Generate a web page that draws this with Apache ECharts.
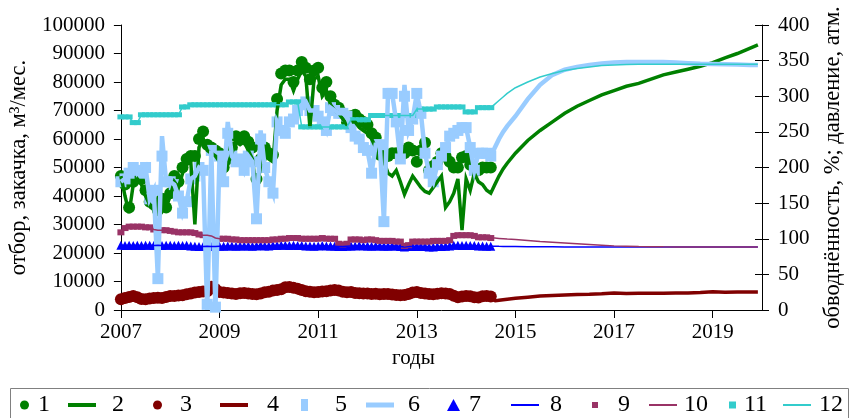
<!DOCTYPE html>
<html><head><meta charset="utf-8">
<script src="https://cdn.jsdelivr.net/npm/echarts/dist/echarts.min.js"></script>
<style>html,body{margin:0;padding:0;background:#fff}#c{width:853px;height:418px}</style>
</head><body><div id="c"></div><script>
// x = months since Jan 2007; history months are 0..90 (array index)
const xTicks = [2007, 2009, 2011, 2013, 2015, 2017, 2019];
const fcMonths = [91,92,93,94,96,99,102,105,108,111,114,117,120,123,126,129,132,135,138,141,144,147,150,153,155];

// 1: production observed (left axis)
const prodObs = [47000,44000,36000,45000,48000,46000,42000,38000,37000,35000,
39000,36000,41000,47000,45000,50000,53000,54000,54000,60000,
62600,58000,57000,56000,55000,50000,53000,57000,61000,60000,
61000,59000,57000,46000,53000,57000,55000,54500,74000,83000,
84000,84000,80000,84000,87000,85000,81000,84000,85000,78000,
80000,75000,72000,71000,69000,66000,68000,68500,67000,66000,
65000,62000,60500,54500,54000,54000,55000,55000,55000,55000,
57000,56000,52000,56000,58700,49000,50500,52000,55000,54000,
52000,50000,50000,53500,54000,51000,50000,49000,50000,50000,
50000];
// 2: production model (history + forecast)
const prodModelHist = [47000,40000,34000,44000,46000,44000,40000,37000,36000,35000,
38000,36000,40000,45000,43000,48000,51000,52000,30000,57000,
60000,56000,55000,54000,52000,48000,51000,55000,59000,58000,
59000,56000,53000,41000,51000,54000,53000,52000,70000,79000,
81000,81000,77000,81000,84000,82000,64000,81000,82000,75000,
77000,72000,70000,69000,67000,65000,66000,66000,64000,63000,
62000,60000,57000,53000,52000,48000,47000,49000,45000,40600,
44000,47000,45000,43000,41600,41000,43000,45000,47000,36000,
38000,41000,46000,28000,46000,42000,48000,45000,44000,42000,
41000];
const prodModelFc = [44000,47000,49500,51500,55000,59500,63000,66000,69000,71500,73500,75500,77000,78500,79500,81000,82500,83500,84500,85500,86800,88500,90000,91800,93000];

// 3: observed (left axis), 4: model
const s3Obs = [3800,4200,4600,4900,4500,3900,3800,4000,4200,4300,
4200,4600,4900,4900,5100,5200,5500,5800,6100,6300,
6500,6600,8200,7400,6300,6100,6000,5800,5600,5900,
6000,5800,5600,5500,5800,6200,6400,6800,7000,7300,
8000,8100,7800,7500,7000,6600,6400,6200,6300,6500,
6600,6800,7000,6800,6400,6200,6300,6000,5900,5800,
5800,5600,5700,5500,5600,5600,5400,5300,5200,5300,
5600,6100,6300,6000,5800,5600,5500,5700,5900,5800,
5600,5000,4500,4700,4900,4800,4500,4400,4800,4900,
4700];
const s4Fc = [3200,3400,3600,3800,4100,4500,4900,5100,5300,5400,5500,5700,6000,5800,5900,5900,5900,6000,6000,6100,6400,6200,6300,6300,6300];

// 5: injection observed (left axis), 6: model
const injObs = [45000,46000,48000,50000,49000,48000,50000,39000,42000,11000,
54000,45000,45000,44000,40000,34000,38000,46000,47000,50000,
49000,2000,56000,1000,54000,45000,62000,54000,52000,53000,
49000,54000,52000,32000,60000,50000,45000,41000,66000,63000,
62000,66000,67000,70000,72000,73000,70000,70000,68000,66000,
63000,71000,70000,69000,69000,68000,64000,61000,60000,57000,
56000,48000,58000,58000,31000,76000,76000,66000,53000,75000,
63000,67000,76000,69000,55000,48000,45000,51000,54000,57000,
61000,62000,63000,64000,64000,57000,49000,55000,55000,55000,
54000];
const injModelHist = [45000,46000,48000,50000,49000,48000,50000,39000,42000,11000,
61000,45000,45000,44000,40000,34000,38000,46000,47000,50000,
49000,0,56000,0,54000,45000,66000,54000,52000,53000,
49000,54000,52000,32000,63000,50000,45000,41000,66000,63000,
62000,66000,67000,70000,72000,73000,70000,70000,68000,66000,
63000,71000,70000,69000,69000,68000,64000,61000,60000,57000,
56000,48000,58000,58000,31000,76000,76000,66000,53000,79000,
63000,67000,76000,69000,55000,48000,45000,51000,54000,57000,
61000,62000,63000,64000,64000,57000,49000,55000,55000,55000,
54000];
const injModelFc = [57000,60000,62500,64500,68000,74000,79000,82500,84300,85300,86000,86500,86800,87000,87000,87000,87000,86800,86600,86400,86300,86200,86100,86000,86000];

// 7: observed (right axis), 8: model
const s7Obs = [91,90.5,91,90.5,91,90.5,91,91,90.5,91,
90.5,91,91,90.5,91,90.5,91,90,89.5,89,
89,89.5,89,89,89.5,89.5,90,90,89.5,90,
90,90,89.5,90,90.5,90,90,90.5,90.5,91,
91,90.5,91,90.5,90.5,90,90,89.5,90,90.5,
90,90,89.5,89,89,89.5,90,90,90.5,90,
90,89.5,90,90,89.5,89.5,90,90,89,88.5,
89,89,89.5,89,89,88.5,88.5,89,89,89.5,
90,91,91,90.5,91,90.5,90.5,90,90,89.5,
89.5];
const s8Fc = [89.5,89.3,89.2,89,89,88.8,88.7,88.6,88.5,88.5,88.4,88.4,88.3,88.3,88.3,88.3,88.3,88.3,88.3,88.3,88.3,88.3,88.3,88.3,88.3];

// 9: observed (right axis), 10: model
const s9Obs = [109,115,117,117,117,117,116,116,113,112,
112,112,111,110,109,109,109,109,108,106,
105,105,104,101,100,100,100,99,99,98,
98,98,98,98,98,98,98,99,99,100,
100,101,101,101,100,100,100,100,100,101,
100,100,100,93,92,93,99,99,99,98,
99,99,98,97,97,97,97,96,96,90,
91,96,96,96,96,96,97,97,97,97,
98,104,105,105,105,105,104,102,102,102,
101];
const s10Fc = [101,100.5,100,99.5,99,97.5,96,95,94,93,92,91,90,89.5,89,88.8,88.6,88.5,88.4,88.4,88.4,88.4,88.4,88.4,88.4];

// 11: observed (right axis), 12: model
const s11Obs = [271,271,271,263,263,274,274,274,274,274,
274,274,274,274,274,285,285,288,288,288,
288,288,288,288,288,288,288,288,288,288,
288,288,288,288,288,288,288,288,288,288,
288,292,292,292,257,257,257,257,257,257,
257,257,257,257,257,257,267,267,267,267,
267,273,273,273,273,273,273,273,273,273,
273,273,282,282,282,282,282,285,285,285,
285,285,285,285,278,278,278,284,284,284,
284];
const s12Fc = [289,294,299,304,312,320,327,332,336,339,341,343,344,344.5,345,345,345,345,345,345,345,345,345,345,345];

const FONT = 'Liberation Serif';
const G = '#008000', DR = '#800000', LB = '#99CCFF', B = '#0000FF', P = '#993366', C = '#33CCCC';

function hist(arr){ return arr.map((v,i)=>[i,v]); }
function full(h,f){ return hist(h).concat(fcMonths.map((m,k)=>[m,f[k]])); }

function sc(name, axis, data, symbol, size, color){
  return {name, type:'scatter', yAxisIndex:axis, data, symbol, symbolSize:size,
    itemStyle:{color, opacity:1}, emphasis:{disabled:true}};
}
function ln(name, axis, data, color, width, miter){
  const ls = {color, width, opacity:1};
  if (miter) { ls.join = 'miter'; ls.miterLimit = 5; }
  return {name, type:'line', yAxisIndex:axis, data, symbol:'none', showSymbol:false,
    lineStyle:ls, itemStyle:{color}, emphasis:{disabled:true}};
}

const series = [
  sc('1',0,hist(prodObs),'circle',12,G),
  ln('2',0,full(prodModelHist,prodModelFc),G,3.5,true),
  sc('3',0,hist(s3Obs),'circle',12,DR),
  ln('4',0,full(s3Obs,s4Fc),DR,3.5,false),
  sc('5',0,hist(injObs),'rect',[11,11],LB),
  ln('6',0,full(injModelHist,injModelFc),LB,4.5,true),
  sc('7',1,hist(s7Obs),'triangle',[9,9],B),
  ln('8',1,full(s7Obs,s8Fc),B,1.5,false),
  sc('9',1,hist(s9Obs),'rect',[7,6],P),
  ln('10',1,full(s9Obs,s10Fc),P,1.5,false),
  sc('11',1,hist(s11Obs),'rect',[7,5],C),
  ln('12',1,full(s11Obs,s12Fc),C,1.5,false)
];

// legend layout: [name, icon, left, w, h, textPad, color]
const legendItems = [
  ['1','circle',20,9,13,4,G],
  ['2','rect',68,28,4,11,G],
  ['3','circle',153,9,13,13,DR],
  ['4','rect',220,28,4,14,DR],
  ['5','rect',301,7,12,22,LB],
  ['6','rect',366,28,5,9,LB],
  ['7','triangle',447,13,12,4,B],
  ['8','rect',511,28,2,6,B],
  ['9','rect',592,6,6,15,P],
  ['10','rect',649,28,2,2,P],
  ['11','rect',729,7,7,3,C],
  ['12','rect',783,28,2,3,C]
];
const legends = legendItems.map(it => ({
  data:[{name:it[0], icon:it[1], itemStyle:{color:it[6], borderWidth:0, opacity:1}}],
  left:it[2], top:393, padding:0, itemWidth:it[3], itemHeight:it[4],
  selectedMode:false,
  itemStyle:{borderWidth:0}, lineStyle:{width:0},
  textStyle:{fontFamily:FONT, fontSize:24, color:'#000', padding:[0,0,0,it[5]]}
}));

const axisText = {fontFamily:FONT, fontSize:21, color:'#000'};
const nameText = {fontFamily:FONT, fontSize:22.5, color:'#000'};
const chart = echarts.init(document.getElementById('c'), null, {renderer:'canvas'});
chart.setOption({
  animation:false,
  backgroundColor:'#fff',
  grid:{left:120, right:88, top:25, bottom:108, containLabel:false},
  legend:legends,
  graphic:[{type:'rect', shape:{x:10.5, y:388.5, width:838, height:40}, style:{fill:'none', stroke:'#808080', lineWidth:1}, silent:true}],
  xAxis:{type:'value', min:0, max:156, interval:24,
    name:'годы', nameLocation:'middle', nameGap:37,
    nameTextStyle:Object.assign({padding:[0,56,0,0]}, nameText, {fontSize:21}),
    axisLine:{lineStyle:{color:'#000', width:1}},
    axisTick:{inside:false, length:8, lineStyle:{color:'#000'}},
    axisLabel:Object.assign({margin:12, showMaxLabel:false,
      formatter:v=>{ const y = 2007+v/12; return xTicks.indexOf(y) >= 0 ? String(y) : ''; }}, axisText),
    splitLine:{show:false}},
  yAxis:[
    {type:'value', position:'left', min:0, max:100000, interval:10000,
      name:'отбор, закачка, м³/мес.', nameLocation:'middle', nameGap:84, nameRotate:90,
      nameTextStyle:nameText,
      axisLine:{show:true, lineStyle:{color:'#000'}},
      axisTick:{show:true, inside:false, length:7, lineStyle:{color:'#000'}},
      axisLabel:Object.assign({margin:16, formatter:v=>String(v)}, axisText), splitLine:{show:false}},
    {type:'value', position:'right', min:0, max:400, interval:50,
      name:'обводнённость, %; давление, атм.', nameLocation:'middle', nameGap:60, nameRotate:90,
      nameTextStyle:nameText,
      axisLine:{show:true, lineStyle:{color:'#000'}},
      axisTick:{show:true, inside:false, length:7, lineStyle:{color:'#000'}},
      axisLabel:Object.assign({margin:16, formatter:v=>String(v)}, axisText), splitLine:{show:false}},
    {type:'value', position:'right', min:0, max:400, interval:50,
      axisLine:{show:false}, axisTick:{show:true, inside:true, length:7, lineStyle:{color:'#000'}},
      axisLabel:{show:false}, splitLine:{show:false}}
  ],
  series:series
});
</script></body></html>
